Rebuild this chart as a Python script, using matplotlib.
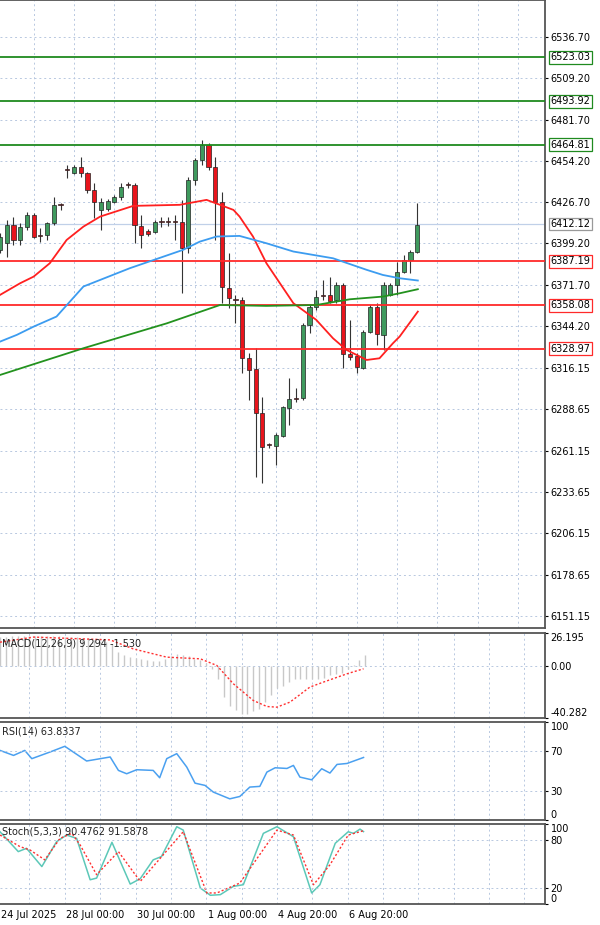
import matplotlib.pyplot as plt
import numpy as np

# ---- candles ----
opens = [6394.9, 6399.3, 6411.5, 6401.5, 6410.4, 6418.2, 6404.6, 6404.9, 6412.6, 6425.1,
         6448.4, 6446.4, 6450.4, 6445.9, 6434.8, 6421.5, 6421.9, 6427.1, 6430.4, 6438.4,
         6438.2, 6411.1, 6407.8, 6407.1, 6414.0, 6414.0, 6414.0, 6413.7, 6396.0, 6441.5,
         6454.8, 6464.8, 6450.4, 6427.1, 6369.4, 6362.2, 6361.6, 6322.7, 6315.4, 6286.1,
         6265.2, 6264.3, 6271.0, 6289.4, 6296.3, 6296.1, 6344.9, 6357.1, 6364.5, 6364.9,
         6361.6, 6371.6, 6325.6, 6324.3, 6316.1, 6340.5, 6357.1, 6338.3, 6364.9, 6371.6,
         6380.4, 6388.2, 6393.8]
closes = [6403.8, 6411.5, 6401.5, 6410.4, 6418.2, 6403.8, 6404.2, 6412.6, 6424.9, 6424.6,
          6447.9, 6450.4, 6445.9, 6434.8, 6427.1, 6427.1, 6427.7, 6430.4, 6437.1, 6438.0,
          6411.5, 6404.9, 6405.3, 6413.7, 6413.5, 6413.5, 6413.5, 6396.0, 6441.5, 6454.8,
          6464.8, 6450.4, 6427.1, 6370.5, 6362.7, 6361.8, 6322.7, 6315.0, 6286.1, 6263.9,
          6264.8, 6271.7, 6290.1, 6295.4, 6295.9, 6344.9, 6357.1, 6363.8, 6364.0, 6361.1,
          6371.6, 6325.6, 6323.8, 6316.7, 6340.5, 6357.1, 6338.9, 6371.6, 6371.6, 6380.4,
          6388.2, 6393.8, 6411.5]
highs = [6406.0, 6414.9, 6417.1, 6412.6, 6420.4, 6419.3, 6409.3, 6413.7, 6430.4, 6426.0,
         6451.5, 6451.5, 6457.0, 6447.0, 6439.3, 6429.3, 6428.6, 6431.5, 6439.3, 6440.4,
         6439.3, 6418.2, 6408.6, 6414.9, 6417.1, 6416.6, 6418.2, 6428.2, 6443.7, 6455.9,
         6468.1, 6466.4, 6457.0, 6433.7, 6392.7, 6364.9, 6363.8, 6326.1, 6329.4, 6297.2,
         6266.5, 6272.8, 6291.0, 6309.4, 6302.8, 6346.0, 6358.2, 6368.2, 6374.9, 6377.1,
         6373.8, 6372.7, 6348.3, 6326.1, 6341.6, 6358.2, 6359.4, 6373.8, 6372.7, 6387.1,
         6391.5, 6394.9, 6426.0]
lows = [6392.7, 6390.4, 6398.2, 6398.2, 6408.2, 6402.7, 6400.4, 6401.5, 6411.5, 6421.5,
        6442.6, 6445.5, 6443.7, 6432.6, 6416.0, 6408.2, 6421.1, 6426.4, 6428.2, 6435.9,
        6399.3, 6396.0, 6404.2, 6406.0, 6410.4, 6410.9, 6401.5, 6366.0, 6392.7, 6438.2,
        6451.5, 6448.2, 6401.5, 6359.4, 6356.0, 6346.0, 6312.7, 6295.0, 6243.9, 6239.5,
        6262.8, 6251.7, 6270.6, 6278.3, 6293.9, 6295.0, 6339.4, 6354.9, 6361.6, 6359.4,
        6359.4, 6316.1, 6321.6, 6312.7, 6315.4, 6339.4, 6331.6, 6328.3, 6364.2, 6364.9,
        6379.3, 6379.3, 6392.7]

# moving averages (sample points: bar index, price)
ma_red_x = [0, 3, 5, 7.4, 9.9, 12.4, 14.9, 19.8, 26.7, 30.7, 32.7, 34.7, 35.6, 37.6, 39.6,
            41.6, 43.6, 47, 49.5, 51.5, 54.5, 56.4, 58.4, 59.4, 62.1]
ma_red_y = [6364.9, 6372.7, 6377.1, 6386.0, 6401.5, 6410.4, 6417.1, 6424.2, 6424.9, 6428.2,
            6424.9, 6421.5, 6417.1, 6403.8, 6386.0, 6372.7, 6359.4, 6348.3, 6336.0, 6328.3,
            6321.6, 6322.7, 6332.7, 6337.2, 6353.8]
ma_blue_x = [0, 2.5, 5, 8.4, 12.4, 19.3, 27.2, 29.7, 32.2, 35.6, 39.6, 43.6, 49.5, 54.5, 56.9,
             59.4, 62.1]
ma_blue_y = [6333.8, 6338.3, 6343.8, 6350.5, 6370.5, 6382.7, 6394.9, 6400.4, 6403.8, 6404.2,
             6399.3, 6393.8, 6389.3, 6381.6, 6378.2, 6376.0, 6374.5]
ma_green_x = [0, 12.4, 24.8, 32.7, 39.6, 47, 52, 56.9, 59.4, 62.1]
ma_green_y = [6311.6, 6329.4, 6346.0, 6358.2, 6357.6, 6358.2, 6362.0, 6363.8, 6366.0, 6368.7]

green_levels = [6523.03, 6493.92, 6464.81]
red_levels = [6387.19, 6358.08, 6328.97]
last_price = 6412.12
price_ticks = [6536.70, 6509.20, 6481.70, 6454.20, 6426.70, 6399.20, 6371.70, 6344.20,
               6316.15, 6288.65, 6261.15, 6233.65, 6206.15, 6178.65, 6151.15]

# MACD
macd_hist = [23, 23, 24, 24, 24, 24, 24, 24, 24, 24, 24, 23, 23, 23, 22, 22, 21, 20, 19,
             17.5, 11, 9, 7.5, 6.5, 6, 5, 4.5, 4.5, 6, 8, 9.5, 9, 8, 6, 5, 3, -2, -10, -24,
             -31, -34, -37, -37, -35, -33, -28, -22, -17, -15, -12, -10, -10, -10, -10, -9.5,
             -9, -7, -6, -5, -2, 1, 5, 9.3]
macd_sig_x = [0, 5.7, 18.7, 22.6, 28.3, 34, 36.8, 39.6, 43, 45.3, 47, 49.2, 52.6, 54.9, 58.9, 61.7]
macd_sig_y = [19, 23, 20.8, 13.8, 7.3, 6, 0.8, -13.5, -26.6, -31.3, -31.8, -27.9, -16.1, -12.2, -5.7, -1.8]

# RSI
rsi_x = [0, 2.3, 4.2, 5.4, 8.5, 11, 14.7, 18.7, 20.1, 21.5, 23.2, 26, 27.1, 28.3, 30,
         31.7, 33.1, 34.8, 36.2, 39, 40.7, 42.4, 44.1, 45.3, 46.7, 48.7, 49.8, 50.9, 52.9,
         54.6, 56, 57.2, 58.9, 61.7]
rsi_y = [71.0, 65.9, 71.0, 62.6, 69.4, 75.2, 60.2, 64.3, 50.6, 47.2, 51.3, 50.6, 43.1, 62.6,
         67.7, 54.0, 37.6, 35.3, 28.5, 21.6, 24.0, 33.6, 34.3, 48.9, 53.3, 52.6, 55.7, 43.8,
         41.0, 52.3, 47.9, 56.7, 57.7, 63.8]

# Stochastic
st_x = [0, 3.1, 4.5, 7.1, 9.6, 11.3, 13, 15.3, 16.4, 19, 22.1, 23.8, 26, 27.4, 30, 31.1,
        34, 35.7, 37.4, 39.6, 41.3, 44.7, 47, 49.8, 52.9, 54.3, 56.9, 59.1, 60, 61.1, 61.7]
st_k = [90.3, 65.5, 69.6, 46.8, 77.9, 86.2, 82.1, 30.3, 32.4, 77.1, 24.9, 31.6, 55.2, 59.3,
        96.6, 92.4, 20.0, 10.9, 11.7, 22.0, 24.1, 88.3, 96.6, 84.1, 13.8, 24.1, 75.9, 90.3,
        88.3, 93.6, 90.5]
sd_x = [0, 3.4, 5.1, 7.6, 10.2, 12.2, 13.6, 16.4, 20.1, 23.8, 27.2, 31.1, 35.1, 36.8,
        40.7, 47, 49.8, 53.2, 56, 59.1, 61.7]
st_d = [86.2, 71.7, 67.5, 55.2, 82.1, 88.3, 73.8, 36.6, 65.5, 28.2, 57.2, 90.3, 13.8, 13.8,
        26.2, 92.4, 86.2, 24.1, 49.0, 86.2, 91.6]

date_labels = ['24 Jul 2025', '28 Jul 00:00', '30 Jul 00:00', '1 Aug 00:00', '4 Aug 20:00', '6 Aug 20:00']
date_pos = [0, 11, 23, 35, 47, 59]

W, H = 600, 925
fig = plt.figure(figsize=(6, 9.25), dpi=100)
AW = 545 / W

def panel(top, bottom):
    return fig.add_axes([0, (H - bottom) / H, AW, (bottom - top) / H])

ax = panel(0, 628)
am = panel(633, 718)
ar = panel(722, 820)
ast = panel(824, 904)

grid_kw = dict(color='#b8c8e0', linestyle=(0, (2, 3)), linewidth=0.7)
fs = 7

for a in (ax, am, ar, ast):
    for s in a.spines.values():
        s.set_color('#555555')
        s.set_linewidth(1.3)
    a.spines['left'].set_visible(False)
    a.tick_params(left=False, labelleft=False, bottom=False, labelbottom=False,
                  right=True, labelright=True, labelsize=fs, length=2, pad=2)
    a.yaxis.tick_right()
    a.set_axisbelow(True)

# ---- main panel ----
idx = np.arange(len(opens))
ax.set_xlim(0, 81)
ax.set_ylim(6143.1, 6561.3)
ax.set_yticks(price_ticks)
ax.set_yticklabels([f'{v:.2f}' for v in price_ticks])
ax.grid(True, **grid_kw)
ax.set_xticks(np.arange(5, 81, 6))

o = np.array(opens); c = np.array(closes)
up = c >= o
cols = np.where(up, '#3f9a5e', '#e8141c')
ax.vlines(idx, lows, highs, color='#333333', linewidth=0.8, zorder=2)
ax.bar(idx, np.maximum(np.abs(c - o), 0.6), bottom=np.minimum(o, c), width=0.62,
       color=cols, edgecolor='#222222', linewidth=0.5, zorder=3)

ax.axhline(last_price, color='#c0d0e8', linewidth=0.9, zorder=1)
for lv in green_levels:
    ax.axhline(lv, color='#1f8a1f', linewidth=1.3, zorder=4)
for lv in red_levels:
    ax.axhline(lv, color='#ff2a2a', linewidth=1.3, zorder=4)

ax.plot(ma_red_x, ma_red_y, color='#ff2020', linewidth=1.3, zorder=5)
ax.plot(ma_blue_x, ma_blue_y, color='#3c9cf0', linewidth=1.3, zorder=5)
ax.plot(ma_green_x, ma_green_y, color='#23921e', linewidth=1.3, zorder=5)

def tag(lv, ec):
    ax.annotate(f'{lv:.2f}', xy=(1.0, lv), xycoords=('axes fraction', 'data'),
                xytext=(4, 0), textcoords='offset points', ha='left', va='center',
                fontsize=fs, annotation_clip=False,
                bbox=dict(boxstyle='square,pad=0.15', fc='white', ec=ec, lw=0.9))

for lv in green_levels:
    tag(lv, '#1f8a1f')
for lv in red_levels:
    tag(lv, '#ff2a2a')
tag(last_price, '#999999')

# ---- MACD ----
li = np.arange(len(macd_hist))
for a in (am, ar, ast):
    a.set_xlim(0, 92.5)
    a.set_xticks(np.arange(5, 92, 6))
    a.grid(True, axis='x', **grid_kw)
am.set_ylim(-40.282, 26.195)
am.vlines(li, 0, macd_hist, color='#c8c8c8', linewidth=1.0)
am.plot(macd_sig_x, macd_sig_y, color='#ff3030', linestyle=(0, (1.5, 1.5)), linewidth=1.0)
am.axhline(0, **grid_kw)
am.set_yticks([26.195, 0, -40.282])
am.set_yticklabels(['26.195', '0.00', '-40.282'])
tl = am.get_yticklabels()
tl[0].set_va('top'); tl[2].set_va('bottom')
am.text(0.004, 0.93, 'MACD(12,26,9) 9.294 -1.530', transform=am.transAxes, fontsize=fs,
        va='top', ha='left', color='#222222')

# ---- RSI ----
ar.set_ylim(0, 100)
ar.plot(rsi_x, rsi_y, color='#4aa0f0', linewidth=1.1)
for lv in (70, 30):
    ar.axhline(lv, **grid_kw)
ar.set_yticks([100, 70, 30, 0])
tl = ar.get_yticklabels()
tl[0].set_va('top'); tl[3].set_va('bottom')
ar.text(0.004, 0.95, 'RSI(14) 63.8337', transform=ar.transAxes, fontsize=fs,
        va='top', ha='left', color='#222222')

# ---- Stochastic ----
ast.set_ylim(0, 100)
ast.plot(st_x, st_k, color='#5cc8b8', linewidth=1.1)
ast.plot(sd_x, st_d, color='#ff3030', linestyle=(0, (1.5, 1.5)), linewidth=1.0)
for lv in (80, 20):
    ast.axhline(lv, **grid_kw)
ast.set_yticks([100, 80, 20, 0])
tl = ast.get_yticklabels()
tl[0].set_va('top'); tl[3].set_va('bottom')
ast.text(0.004, 0.97, 'Stoch(5,3,3) 90.4762 91.5878', transform=ast.transAxes, fontsize=fs,
         va='top', ha='left', color='#222222')

for lab, p in zip(date_labels, date_pos):
    ast.annotate(lab, xy=(p, 0), xycoords='data', xytext=(1, -4), textcoords='offset points',
                 ha='left', va='top', fontsize=fs, annotation_clip=False)

fig.savefig('out.png', dpi=100)
